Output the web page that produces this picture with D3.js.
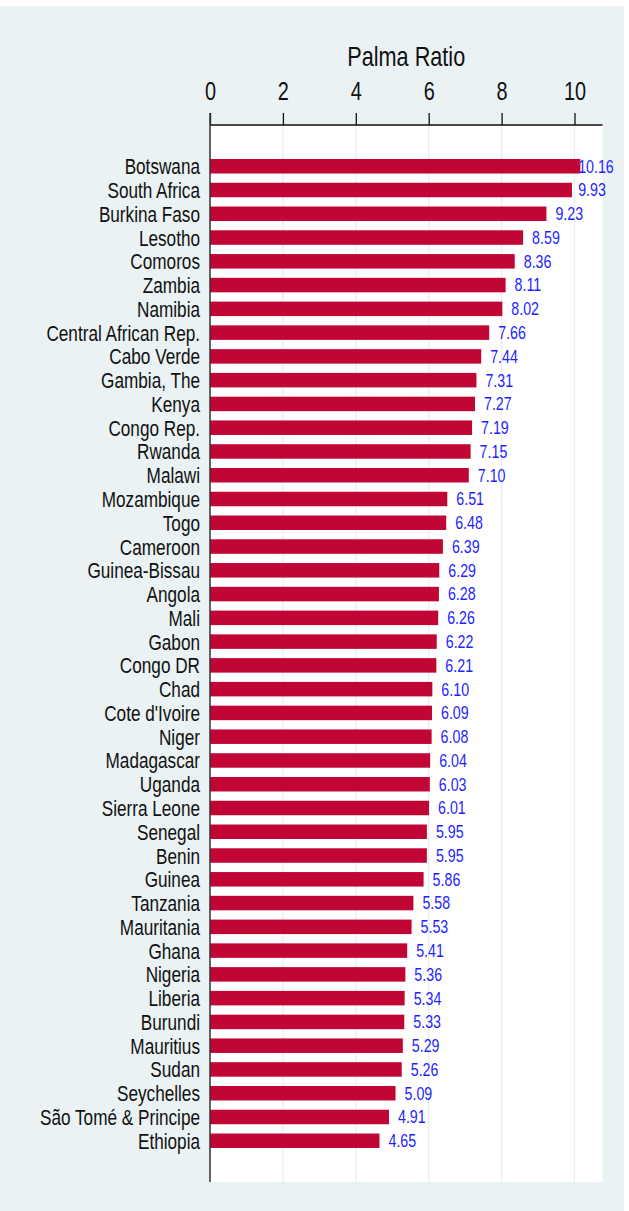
<!DOCTYPE html>
<html><head><meta charset="utf-8">
<script src="https://cdn.jsdelivr.net/npm/d3@7/dist/d3.min.js"></script>
<style>html,body{margin:0;padding:0;background:#fff;}svg{display:block;}</style>
</head><body>
<svg id="c" width="629" height="1211"></svg>
<script>
const countries = ["Botswana","South Africa","Burkina Faso","Lesotho","Comoros","Zambia","Namibia","Central African Rep.","Cabo Verde","Gambia, The","Kenya","Congo Rep.","Rwanda","Malawi","Mozambique","Togo","Cameroon","Guinea-Bissau","Angola","Mali","Gabon","Congo DR","Chad","Cote d'Ivoire","Niger","Madagascar","Uganda","Sierra Leone","Senegal","Benin","Guinea","Tanzania","Mauritania","Ghana","Nigeria","Liberia","Burundi","Mauritius","Sudan","Seychelles","São Tomé & Principe","Ethiopia"];
const palma = [10.16,9.93,9.23,8.59,8.36,8.11,8.02,7.66,7.44,7.31,7.27,7.19,7.15,7.10,6.51,6.48,6.39,6.29,6.28,6.26,6.22,6.21,6.10,6.09,6.08,6.04,6.03,6.01,5.95,5.95,5.86,5.58,5.53,5.41,5.36,5.34,5.33,5.29,5.26,5.09,4.91,4.65];
const xTicks = [0,2,4,6,8,10];
const axisTitle = "Palma Ratio";

const FONT = "'Liberation Sans',Arial,Helvetica,sans-serif";
const svg = d3.select("#c");
const L = 210, R = 602.5, T = 125, B = 1182;

svg.append("rect").attr("x",0).attr("y",6).attr("width",624).attr("height",1205).attr("fill","#eaf2f3");
svg.append("rect").attr("x",L).attr("y",T).attr("width",R-L).attr("height",B-T).attr("fill","#ffffff");

const x = d3.scaleLinear().domain([0,10]).range([L, 574.5]);
const y = d3.scaleBand().domain(countries).range([T,B]).paddingInner(0.39).paddingOuter(1.43);

// gridlines
svg.append("g").selectAll("line").data(xTicks.filter(d=>d>0)).join("line")
  .attr("x1",d=>x(d)).attr("x2",d=>x(d)).attr("y1",T).attr("y2",B)
  .attr("stroke","#e4edf0").attr("stroke-width",1.2);

const data = countries.map((c,i)=>({c, v: palma[i]}));

svg.append("g").selectAll("rect").data(data).join("rect")
  .attr("x",x(0)).attr("y",d=>y(d.c)).attr("width",d=>x(d.v)-x(0)).attr("height",y.bandwidth())
  .attr("fill","#c10534");

// top axis
const ax = d3.axisTop(x).tickValues(xTicks).tickSize(12).tickPadding(12).tickFormat(d3.format("d"));
const gAx = svg.append("g").attr("transform",`translate(0,${T})`).call(ax);
gAx.select(".domain").remove();
gAx.selectAll(".tick line").attr("stroke","#111").attr("stroke-width",1.3);
gAx.selectAll(".tick text").each(function(){
  const t = d3.select(this);
  t.attr("y",null).attr("dy",null).attr("x",null)
   .attr("transform",`translate(0,-25) scale(0.78,1)`)
   .attr("fill","#111").attr("font-family",FONT).attr("font-size",25.5).attr("text-anchor","middle");
});
svg.append("line").attr("x1",L).attr("x2",R).attr("y1",T).attr("y2",T).attr("stroke","#111").attr("stroke-width",1.6);
svg.append("line").attr("x1",L).attr("x2",L).attr("y1",T-12).attr("y2",B).attr("stroke","#333").attr("stroke-width",1.5);

// title
svg.append("text").attr("transform",`translate(${(L+R)/2},66) scale(0.76,1)`).attr("text-anchor","middle")
  .attr("font-family",FONT).attr("font-size",28.5).attr("fill","#111")
  .text(axisTitle);

// category labels
svg.append("g").selectAll("text").data(data).join("text")
  .attr("transform",d=>`translate(200,${y(d.c)+y.bandwidth()/2+8}) scale(0.77,1)`)
  .attr("text-anchor","end")
  .attr("font-family",FONT).attr("font-size",22.3).attr("fill","#111")
  .text(d=>d.c);

// value labels
svg.append("g").selectAll("text").data(data).join("text")
  .attr("transform",d=>`translate(${Math.min(x(d.v)+9, x(10.1))},${y(d.c)+y.bandwidth()/2+6.4}) scale(0.8,1)`)
  .attr("font-family",FONT).attr("font-size",17.8).attr("fill","#1f1fff")
  .text(d=>d.v.toFixed(2));
</script>
</body></html>
